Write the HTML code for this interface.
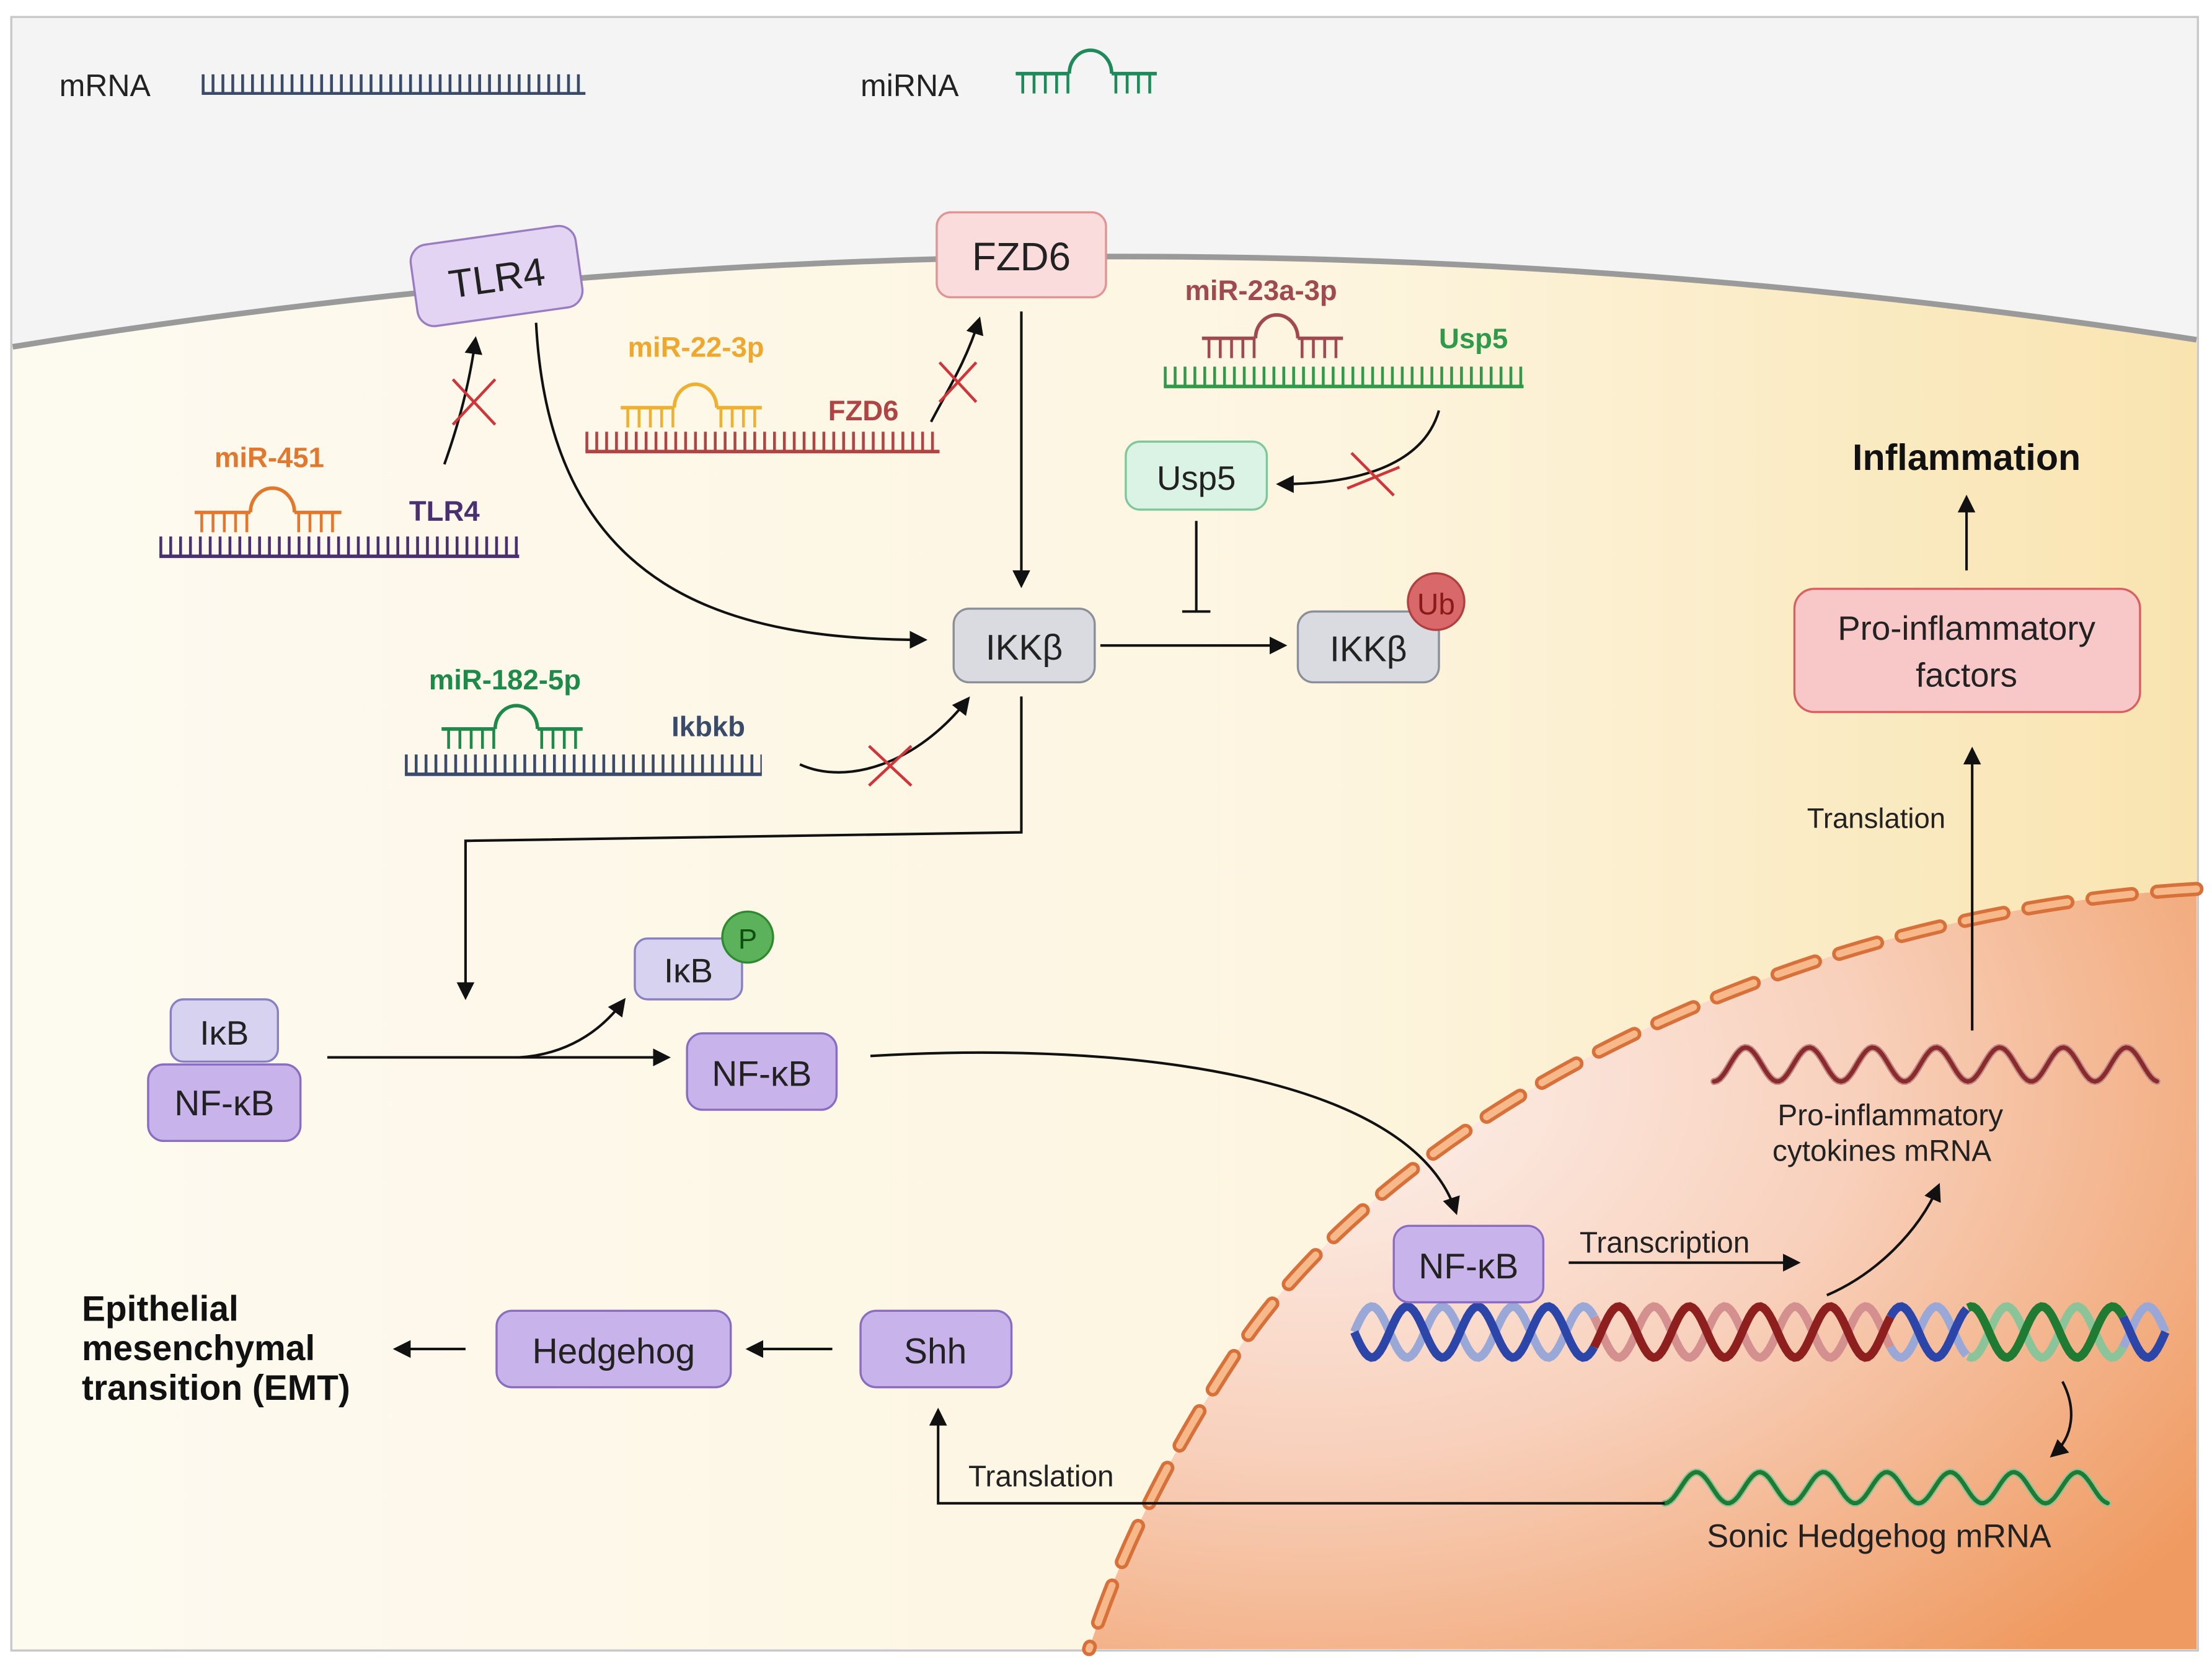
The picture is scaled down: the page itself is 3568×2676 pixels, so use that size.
<!DOCTYPE html>
<html><head><meta charset="utf-8"><style>
html,body{margin:0;padding:0;background:#fff}
svg{display:block}
text{font-family:"Liberation Sans",sans-serif}
</style></head><body>
<svg id="s" width="3568" height="2676" viewBox="0 0 1568 1172" preserveAspectRatio="none" xmlns="http://www.w3.org/2000/svg">
<defs>
<linearGradient id="cyto" x1="0" y1="0" x2="1" y2="0">
<stop offset="0" stop-color="#fdfaf0"/><stop offset="0.6" stop-color="#fdf5e0"/><stop offset="1" stop-color="#f9e4b0"/>
</linearGradient>
<radialGradient id="nuc" cx="0.2" cy="0.25" r="1.0">
<stop offset="0" stop-color="#fdf3f0"/><stop offset="0.5" stop-color="#f8d0bb"/><stop offset="1" stop-color="#ef9a60"/>
</radialGradient>
<marker id="ah" viewBox="0 0 10 10" refX="8" refY="5" markerWidth="7" markerHeight="7" orient="auto"><path d="M0,0 L10,5 L0,10 z" fill="#111"/></marker>
</defs>
<rect x="0" y="0" width="1568" height="1172" fill="#fff"/>
<rect x="8" y="12" width="1550" height="1154" fill="#f4f4f4" stroke="#c8c8c8" stroke-width="1.5"/>
<path d="M9,245 Q780,120 1557,240 L1557,1165 L9,1165 Z" fill="url(#cyto)"/>
<path d="M9,245 Q780,120 1557,240" fill="none" stroke="#9a9a9a" stroke-width="4"/>
<path d="M1557,628 C1260,645 990,790 880,950 C820,1040 790,1110 772,1165 L1557,1165 Z" fill="url(#nuc)"/>
<path d="M1557,628 C1260,645 990,790 880,950 C820,1040 790,1110 772,1165" fill="none" stroke="#d8703a" stroke-width="10" stroke-dasharray="28 18" stroke-linecap="round"/>
<path d="M1557,628 C1260,645 990,790 880,950 C820,1040 790,1110 772,1165" fill="none" stroke="#f8b98a" stroke-width="5" stroke-dasharray="28 18" stroke-linecap="round"/>

<text x="42" y="68" font-size="22" fill="#222">mRNA</text>
<line x1="143" y1="59" x2="415" y2="59" stroke="#3a4a6a" stroke-width="13" stroke-dasharray="2 5"/>
<line x1="143" y1="66" x2="415" y2="66" stroke="#3a4a6a" stroke-width="2"/>
<text x="610" y="68" font-size="22" fill="#222">miRNA</text>

<g id="dyn"></g>

<g fill="none" stroke="#111" stroke-width="1.8">
<path d="M380,228 C390,420 520,452 655,452" marker-end="url(#ah)"/>
<path d="M315,328 C325,300 333,270 337,240" marker-end="url(#ah)"/>
<path d="M660,298 C672,275 685,255 694,226" marker-end="url(#ah)"/>
<path d="M1020,290 C1010,325 970,342 907,342" marker-end="url(#ah)"/>
<path d="M567,540 C600,555 650,540 686,494" marker-end="url(#ah)"/>
<line x1="724" y1="220" x2="724" y2="413" marker-end="url(#ah)"/>
<line x1="780" y1="456" x2="910" y2="456" marker-end="url(#ah)"/>
<line x1="848" y1="368" x2="848" y2="432"/>
<line x1="838" y1="432" x2="858" y2="432"/>
<polyline points="724,492 724,588 330,594 330,704" marker-end="url(#ah)"/>
<line x1="232" y1="747" x2="473" y2="747" marker-end="url(#ah)"/>
<path d="M368,747 C400,745 425,730 442,707" marker-end="url(#ah)"/>
<path d="M617,746 C800,735 1000,760 1032,856" marker-end="url(#ah)"/>
<line x1="1112" y1="892" x2="1274" y2="892" marker-end="url(#ah)"/>
<path d="M1295,915 C1330,900 1360,870 1374,838" marker-end="url(#ah)"/>
<path d="M1462,976 C1472,995 1470,1015 1455,1028" marker-end="url(#ah)"/>
<polyline points="1180,1062 665,1062 665,997" marker-end="url(#ah)"/>
<line x1="590" y1="953" x2="531" y2="953" marker-end="url(#ah)"/>
<line x1="330" y1="953" x2="281" y2="953" marker-end="url(#ah)"/>
<line x1="1398" y1="728" x2="1398" y2="530" marker-end="url(#ah)"/>
<line x1="1394" y1="403" x2="1394" y2="352" marker-end="url(#ah)"/>
</g>
<g stroke="#d0353a" stroke-width="2">
<line x1="321" y1="268" x2="351" y2="300"/><line x1="351" y1="268" x2="321" y2="300"/>
<line x1="666" y1="256" x2="692" y2="284"/><line x1="692" y1="256" x2="666" y2="284"/>
<line x1="958" y1="320" x2="988" y2="350"/><line x1="992" y1="330" x2="955" y2="345"/>
<line x1="616" y1="527" x2="646" y2="555"/><line x1="646" y1="527" x2="616" y2="555"/>
</g>

<g font-weight="bold" font-size="20">
<text x="152" y="330" fill="#e2782e">miR-451</text>
<text x="290" y="368" fill="#4a3070">TLR4</text>
<text x="445" y="252" fill="#efa82e">miR-22-3p</text>
<text x="587" y="297" fill="#b04444">FZD6</text>
<text x="840" y="212" fill="#a04a50">miR-23a-3p</text>
<text x="1020" y="246" fill="#2e9a4a">Usp5</text>
<text x="304" y="487" fill="#1e8a4a">miR-182-5p</text>
<text x="476" y="520" fill="#3a4a6a">Ikbkb</text>
</g>

<g stroke-width="1.5">
<g transform="rotate(-8 352 195)"><rect x="293" y="166" width="118" height="58" rx="12" fill="#e2d4f2" stroke="#9a7cc0"/>
<text x="352" y="206" font-size="28" text-anchor="middle" fill="#222" stroke="none">TLR4</text></g>
<rect x="664" y="150" width="120" height="60" rx="10" fill="#fbdcdc" stroke="#e09494"/>
<text x="724" y="191" font-size="28" text-anchor="middle" fill="#222">FZD6</text>
<rect x="798" y="312" width="100" height="48" rx="10" fill="#daf3e4" stroke="#80c89a"/>
<text x="848" y="346" font-size="24" text-anchor="middle" fill="#222">Usp5</text>
<rect x="676" y="430" width="100" height="52" rx="11" fill="#d9dbe0" stroke="#8a8f9a"/>
<text x="726" y="466" font-size="25" text-anchor="middle" fill="#222">IKKβ</text>
<rect x="920" y="432" width="100" height="50" rx="11" fill="#d9dbe0" stroke="#8a8f9a"/>
<text x="970" y="467" font-size="25" text-anchor="middle" fill="#222">IKKβ</text>
<circle cx="1018" cy="425" r="20" fill="#d9686a" stroke="#b04040"/>
<text x="1018" y="434" font-size="21" text-anchor="middle" fill="#8a1a1a">Ub</text>
<rect x="450" y="663" width="76" height="43" rx="9" fill="#d6d2f0" stroke="#8880c0"/>
<text x="488" y="694" font-size="24" text-anchor="middle" fill="#222">IκB</text>
<circle cx="530" cy="662" r="18" fill="#5bb25b" stroke="#2d8a2d"/>
<text x="530" y="670" font-size="20" text-anchor="middle" fill="#0f4f0f">P</text>
<rect x="121" y="706" width="76" height="44" rx="9" fill="#d6d2f0" stroke="#8880c0"/>
<text x="159" y="738" font-size="24" text-anchor="middle" fill="#222">IκB</text>
<rect x="105" y="752" width="108" height="54" rx="11" fill="#c8b4ea" stroke="#8a6cc0"/>
<text x="159" y="788" font-size="25" text-anchor="middle" fill="#222">NF-κB</text>
<rect x="487" y="730" width="106" height="54" rx="11" fill="#c8b4ea" stroke="#8a6cc0"/>
<text x="540" y="767" font-size="25" text-anchor="middle" fill="#222">NF-κB</text>
<rect x="988" y="866" width="106" height="54" rx="11" fill="#c8b4ea" stroke="#8a6cc0"/>
<text x="1041" y="903" font-size="25" text-anchor="middle" fill="#222">NF-κB</text>
<rect x="352" y="926" width="166" height="54" rx="11" fill="#c8b4ea" stroke="#8a6cc0"/>
<text x="435" y="963" font-size="25" text-anchor="middle" fill="#222">Hedgehog</text>
<rect x="610" y="926" width="107" height="54" rx="11" fill="#c8b4ea" stroke="#8a6cc0"/>
<text x="663" y="963" font-size="25" text-anchor="middle" fill="#222">Shh</text>
<rect x="1272" y="416" width="245" height="87" rx="14" fill="#f8c8c8" stroke="#d86060"/>
<text x="1394" y="452" font-size="24" text-anchor="middle" fill="#222">Pro-inflammatory</text>
<text x="1394" y="485" font-size="24" text-anchor="middle" fill="#222">factors</text>
</g>
<text x="1394" y="332" font-size="26" font-weight="bold" text-anchor="middle" fill="#111">Inflammation</text>
<text x="1330" y="585" font-size="20" text-anchor="middle" fill="#222">Translation</text>
<text x="1180" y="885" font-size="21" text-anchor="middle" fill="#222">Transcription</text>
<text x="1340" y="795" font-size="21" text-anchor="middle" fill="#222">Pro-inflammatory</text>
<text x="1334" y="820" font-size="21" text-anchor="middle" fill="#222">cytokines mRNA</text>
<text x="1332" y="1093" font-size="23" text-anchor="middle" fill="#222">Sonic Hedgehog mRNA</text>
<text x="738" y="1050" font-size="21" text-anchor="middle" fill="#222">Translation</text>
<g font-size="25" font-weight="bold" fill="#111">
<text x="58" y="933">Epithelial</text>
<text x="58" y="961">mesenchymal</text>
<text x="58" y="989">transition (EMT)</text>
</g>
</svg>
<script>
var NS="http://www.w3.org/2000/svg",g=document.getElementById("dyn");
function el(t,a,p){var e=document.createElementNS(NS,t);for(var k in a)e.setAttribute(k,a[k]);(p||g).appendChild(e);return e;}
function mrna(x0,x1,y,c){el("line",{x1:x0,y1:y-7,x2:x1,y2:y-7,stroke:c,"stroke-width":14,"stroke-dasharray":"2 5"});el("line",{x1:x0,y1:y,x2:x1,y2:y,stroke:c,"stroke-width":2.5});}
function mirna(x,y,c,w){w=w||100;var s=w/100;
 var a=x+38*s,b=x+68*s;
 el("line",{x1:x,y1:y,x2:a,y2:y,stroke:c,"stroke-width":2.5});
 el("line",{x1:b,y1:y,x2:x+w,y2:y,stroke:c,"stroke-width":2.5});
 el("path",{d:"M"+a+","+y+" A"+(b-a)/2+","+(b-a)/2*1.1+" 0 0 1 "+b+","+y,fill:"none",stroke:c,"stroke-width":2.5});
 el("line",{x1:x+4,y1:y+7,x2:a,y2:y+7,stroke:c,"stroke-width":14,"stroke-dasharray":"2 6"});
 el("line",{x1:b+2,y1:y+7,x2:x+w-4,y2:y+7,stroke:c,"stroke-width":14,"stroke-dasharray":"2 6"});}
mirna(720,52,"#1e8a5a");
mrna(113,368,393,"#4a3070"); mirna(138,362,"#e2782e",104);
mrna(415,666,319,"#b04444"); mirna(440,288,"#efb030",100);
mrna(825,1080,273,"#2e9a4a"); mirna(852,239,"#a04a50",100);
mrna(287,540,547,"#3a4a6a"); mirna(313,515,"#1e8a4a",100);
function sine(x0,x1,y,amp,per,ph,c,w){var d="";for(var x=x0;x<=x1;x+=2){var yy=y+amp*Math.sin((x-x0)/per*2*Math.PI+ph);d+=(d?"L":"M")+x.toFixed(1)+","+yy.toFixed(1);}
 el("path",{d:d,fill:"none",stroke:c,"stroke-width":w||5,"stroke-linecap":"round"});}
var segs=[[960,1130,"#2b45a8","#9aa8d8"],[1130,1340,"#8e1f1f","#d48f8f"],[1340,1395,"#2b45a8","#9aa8d8"],[1395,1505,"#1f7a32","#8cc49a"],[1505,1535,"#2b45a8","#9aa8d8"]];
segs.forEach(function(s){var d1="",d2="";for(var x=s[0];x<=s[1];x+=2){var t=(x-960)/50*2*Math.PI;d1+=(d1?"L":"M")+x+","+(941+18*Math.sin(t)).toFixed(1);d2+=(d2?"L":"M")+x+","+(941-18*Math.sin(t)).toFixed(1);}
 el("path",{d:d2,fill:"none",stroke:s[3],"stroke-width":6});el("path",{d:d1,fill:"none",stroke:s[2],"stroke-width":6});});
sine(1215,1530,752,12,45,Math.PI/2,"#c08a8a",5);
sine(1215,1530,752,12,45,Math.PI/2,"#8a2a2a",3);
sine(1180,1495,1051,11,45,Math.PI/2,"#8cc49a",5);
sine(1180,1495,1051,11,45,Math.PI/2,"#1f7a32",3);
</script>
</body></html>
